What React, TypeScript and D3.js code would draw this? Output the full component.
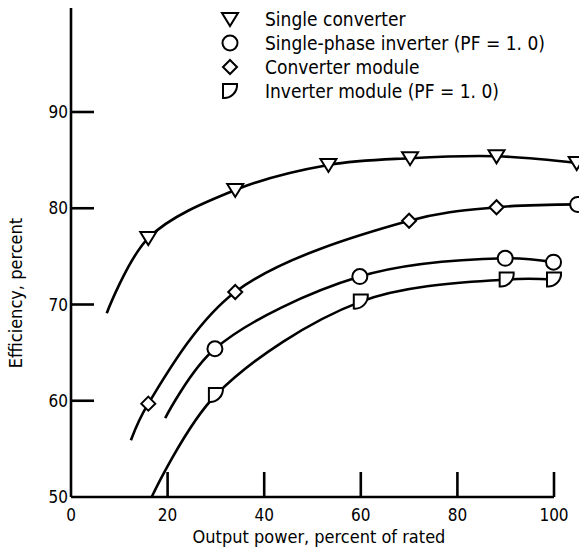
import React from "react";
import * as d3 from "d3";

// ---- data ----
const singleConverterX = [16, 34, 53.3, 70.2, 88.1, 104.7];
const singleConverterY = [76.9, 81.9, 84.5, 85.2, 85.4, 84.7];
const singleConverterStart = [7.4, 69.1];

const converterModuleX = [16, 34, 70, 88.1, 104.9];
const converterModuleY = [59.7, 71.3, 78.7, 80.1, 80.4];
const converterModuleShapes = ["diamond", "diamond", "diamond", "diamond", "circle"];
const converterModuleStart = [12.4, 55.9];

const singlePhaseX = [29.8, 59.8, 89.9, 99.9];
const singlePhaseY = [65.4, 72.9, 74.8, 74.4];
const singlePhaseStart = [19.5, 58.2];

const inverterModuleX = [30, 60, 90.2, 100];
const inverterModuleY = [60.6, 70.3, 72.6, 72.6];
const inverterModuleStart = [16.7, 50];

const xTicks = [0, 20, 40, 60, 80, 100];
const yTicks = [50, 60, 70, 80, 90];

const legendLabels = [
  "Single converter",
  "Single-phase inverter (PF = 1. 0)",
  "Converter module",
  "Inverter module (PF = 1. 0)",
];
const legendShapes = ["triangle", "circle", "diamond", "dee"];

const FONT = "'DejaVu Sans Condensed', 'DejaVu Sans', sans-serif";

const x = d3.scaleLinear().domain([0, 100]).range([71, 554]);
const y = d3.scaleLinear().domain([50, 90]).range([497, 112]);

function markerPath(shape: string): string {
  switch (shape) {
    case "triangle":
      return "M-8,-6 L8,-6 L0,7 Z";
    case "diamond":
      return "M0,-7 L7,0 L0,7 L-7,0 Z";
    case "circle":
      return "M7.5,0 A7.5,7.5 0 1 1 -7.5,0 A7.5,7.5 0 1 1 7.5,0 Z";
    case "dee":
      return "M-7,-7 L7,-7 A13,13 0 0 1 -7,7 Z";
    default:
      return "";
  }
}

function Series({ xs, ys, start, shapes }: { xs: number[]; ys: number[]; start: number[]; shapes: string[] }) {
  const pts: [number, number][] = [[start[0], start[1]], ...xs.map((v, i) => [v, ys[i]] as [number, number])];
  const line = d3
    .line<[number, number]>()
    .x((d) => x(d[0]))
    .y((d) => y(d[1]))
    .curve(d3.curveCatmullRom.alpha(0.5));
  return (
    <g>
      <path d={line(pts) || ""} fill="none" stroke="#000" strokeWidth={2.6} />
      {xs.map((v, i) => (
        <path
          key={i}
          d={markerPath(shapes[i])}
          transform={`translate(${x(v)},${y(ys[i])})`}
          fill="#fff"
          stroke="#000"
          strokeWidth={2}
        />
      ))}
    </g>
  );
}

export default function App() {
  const legendY = [19, 43, 67, 91];
  return (
    <svg
      width={579}
      height={550}
      style={{ position: "absolute", left: 0, top: 0, background: "#fff" }}
      fontFamily={FONT}
    >
      <rect width={579} height={550} fill="#fff" />
      {/* axes */}
      <line x1={x(0)} y1={8} x2={x(0)} y2={y(50)} stroke="#000" strokeWidth={2.6} />
      <line x1={x(0)} y1={y(50)} x2={x(100)} y2={y(50)} stroke="#000" strokeWidth={2.6} />
      {yTicks.filter((t) => t !== 50).map((t) => (
        <line key={t} x1={x(0)} y1={y(t)} x2={x(0) + 23} y2={y(t)} stroke="#000" strokeWidth={2.6} />
      ))}
      {xTicks.filter((t) => t !== 0).map((t) => (
        <line key={t} x1={x(t)} y1={y(50)} x2={x(t)} y2={y(50) - 25} stroke="#000" strokeWidth={2.6} />
      ))}
      {yTicks.map((t) => (
        <text key={t} x={68} y={y(t) + 6} textAnchor="end" fontSize={17}>
          {t}
        </text>
      ))}
      {xTicks.map((t) => (
        <text key={t} x={x(t)} y={521} textAnchor="middle" fontSize={17}>
          {t}
        </text>
      ))}
      <text x={319} y={543} textAnchor="middle" fontSize={18}>
        Output power, percent of rated
      </text>
      <text transform="translate(22,293) rotate(-90)" textAnchor="middle" fontSize={18}>
        Efficiency, percent
      </text>

      <Series xs={singleConverterX} ys={singleConverterY} start={singleConverterStart} shapes={singleConverterX.map(() => "triangle")} />
      <Series xs={converterModuleX} ys={converterModuleY} start={converterModuleStart} shapes={converterModuleShapes} />
      <Series xs={singlePhaseX} ys={singlePhaseY} start={singlePhaseStart} shapes={singlePhaseX.map(() => "circle")} />
      <Series xs={inverterModuleX} ys={inverterModuleY} start={inverterModuleStart} shapes={inverterModuleX.map(() => "dee")} />

      {legendLabels.map((l, i) => (
        <g key={l}>
          <path d={markerPath(legendShapes[i])} transform={`translate(230,${legendY[i]})`} fill="#fff" stroke="#000" strokeWidth={2} />
          <text x={265} y={legendY[i] + 7} fontSize={19}>
            {l}
          </text>
        </g>
      ))}
    </svg>
  );
}
